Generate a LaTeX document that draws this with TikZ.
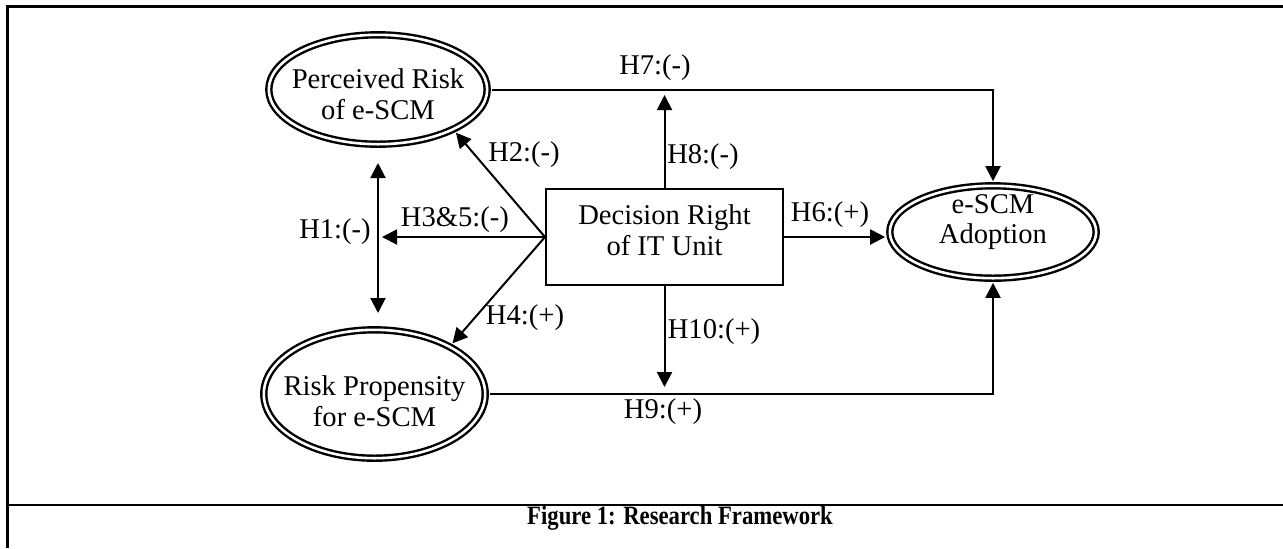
\documentclass[tikz,border=0pt]{standalone}
\usepackage{fontspec}
\setmainfont{Liberation Serif}
\usetikzlibrary{arrows.meta,shapes.geometric}
\begin{document}
\begin{tikzpicture}[x=0.5pt,y=-0.5pt,
  every node/.style={font=\fontsize{14.3}{15.3}\selectfont},
  construct/.style={ellipse, draw, line width=1.2pt, double=white,
    double distance=1.3pt, inner sep=0pt, outer sep=2.3pt},
  txt/.style={align=center, inner sep=0pt},
  unitbox/.style={draw, line width=1pt, minimum width=118.5pt,
    minimum height=48pt, inner sep=0pt},
  tip/.style={Triangle[length=7.5pt,width=7.5pt]},
  arr/.style={line width=1pt, -{Triangle[length=7.5pt,width=7.5pt]}},
  dblarr/.style={line width=1pt,
    {Triangle[length=7.5pt,width=7.5pt]}-{Triangle[length=7.5pt,width=7.5pt]}},
  lbl/.style={inner sep=0pt},
  frame/.style={line width=1.5pt}
]
\useasboundingbox (0,0) rectangle (1283,548);

% table frame and caption row
\draw[frame] (7.5,548) -- (7.5,6.5) -- (1283,6.5);
\draw[line width=1.3pt] (7.5,505) -- (1283,505);
\node[font=\bfseries\fontsize{13.2}{15}\selectfont, xscale=0.86] (caption) at (680,518)
  {Figure 1: Research Framework};

% constructs
\node[construct, minimum width=109.2pt, minimum height=54.7pt] (perc) at (378,89.5) {};
\node[txt] (percText) at (378,94) {Perceived Risk\\of e-SCM};

\node[construct, minimum width=110.7pt, minimum height=64.2pt] (riskp) at (374.5,394) {};
\node[txt] (riskpText) at (374.5,401) {Risk Propensity\\for e-SCM};

\node[construct, minimum width=103.2pt, minimum height=46.2pt] (adopt) at (993,232) {};
\node[txt] (adoptText) at (993,222) {e-SCM\\Adoption};

\node[unitbox] (unit) at (664.5,237) {};
\node[txt] (unitText) at (664.5,230) {Decision Right\\of IT Unit};

% free ends of the arrows
\coordinate (h8end) at (664.5,95);
\coordinate (h10end) at (664.5,387);
\coordinate (h1top) at (378,163);
\coordinate (h1bot) at (378,313);
\coordinate (h35end) at (382,237);

% paths
\draw[arr] (perc.east) -| (adopt.north);
\draw[arr] (riskp.east) -| (adopt.south);
\draw[arr] (unit.north) -- (h8end);
\draw[arr] (unit.south) -- (h10end);
\draw[arr] (unit.east) -- (adopt.west |- unit.east);
\draw[dblarr] (h1top) -- (h1bot);
\draw[arr] (unit.west) -- (h35end);
\draw[arr] (unit.west) -- (perc.-29);
\draw[arr] (unit.west) -- (riskp.33);

% hypothesis labels
\node[lbl] (h7) at (655,68) {H7:(-)};
\node[lbl] (h8) at (703,157) {H8:(-)};
\node[lbl] (h2) at (524,155) {H2:(-)};
\node[lbl] (h1) at (335,232) {H1:(-)};
\node[lbl] (h35) at (455,220) {H3\&5:(-)};
\node[lbl] (h6) at (830,215) {H6:(+)};
\node[lbl] (h4) at (525,318) {H4:(+)};
\node[lbl] (h10) at (714,332) {H10:(+)};
\node[lbl] (h9) at (663,412) {H9:(+)};
\end{tikzpicture}
\end{document}
